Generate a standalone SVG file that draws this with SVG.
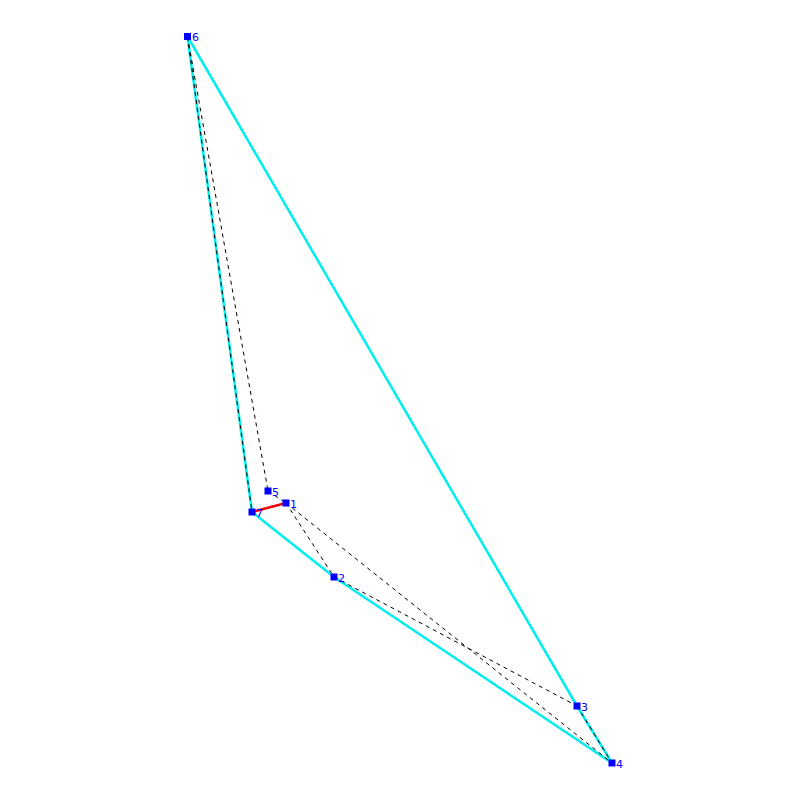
<svg xmlns="http://www.w3.org/2000/svg" width="800" height="800" viewBox="0 0 800 800">
<style>
.hull{stroke:#00eeee;stroke-width:2.5;fill:none}
.dash{stroke:#000;stroke-width:1;stroke-dasharray:4 4;fill:none}
.red{stroke:#ee0000;stroke-width:2.5;fill:none}
.node rect{fill:#0000ff}
.node text{fill:#0000ff;font-family:"DejaVu Sans",sans-serif;font-size:11px}
</style>
<rect width="800" height="800" fill="#fff"/>
<g id="connectors">
<line class="hull" x1="187.5" y1="36.5" x2="252" y2="512"/>
<line class="hull" x1="252" y1="512" x2="334" y2="577"/>
<line class="hull" x1="334" y1="577" x2="612" y2="763"/>
<line class="hull" x1="612" y1="763" x2="577" y2="706"/>
<line class="hull" x1="577" y1="706" x2="187.5" y2="36.5"/>
<line class="dash" x1="187.5" y1="36.5" x2="252" y2="512"/>
<line class="dash" x1="187.5" y1="36.5" x2="268" y2="491"/>
<line class="dash" x1="268" y1="491" x2="286" y2="503"/>
<line class="dash" x1="286" y1="503" x2="334" y2="577"/>
<line class="dash" x1="286" y1="503" x2="612" y2="763"/>
<line class="dash" x1="334" y1="577" x2="577" y2="706"/>
<line class="dash" x1="577" y1="706" x2="612" y2="763"/>
<line class="red" x1="252" y1="512" x2="286" y2="503"/>
</g>
<g id="n6" class="node"><rect x="184" y="33" width="7" height="7"/><text x="192" y="41">6</text></g>
<g id="n5" class="node"><rect x="264.5" y="487.5" width="7" height="7"/><text x="272" y="496">5</text></g>
<g id="n1" class="node"><rect x="282.5" y="499.5" width="7" height="7"/><text x="290" y="508">1</text></g>
<g id="n7" class="node"><rect x="248.5" y="508.5" width="7" height="7"/><text x="256" y="517">7</text></g>
<g id="n2" class="node"><rect x="330.5" y="573.5" width="7" height="7"/><text x="338" y="582">2</text></g>
<g id="n3" class="node"><rect x="573.5" y="702.5" width="7" height="7"/><text x="581" y="711">3</text></g>
<g id="n4" class="node"><rect x="608.5" y="759.5" width="7" height="7"/><text x="616" y="768">4</text></g>
</svg>
